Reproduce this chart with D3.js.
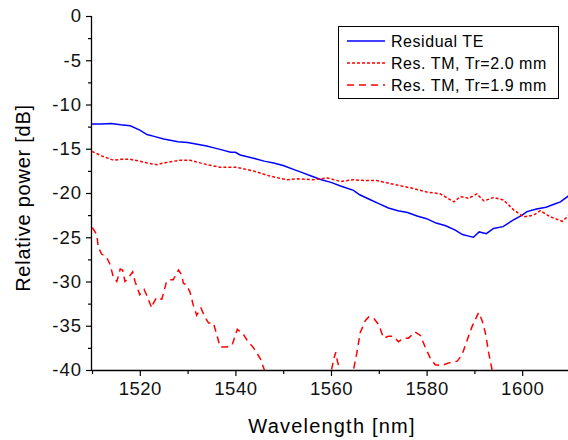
<!DOCTYPE html>
<html>
<head>
<meta charset="utf-8">
<script src="https://cdn.jsdelivr.net/npm/d3@7"></script>
<style>
  body { margin: 0; background: #fff; }
  svg { font-family: "Liberation Sans", Arial, sans-serif; }
</style>
</head>
<body>
<svg id="chart" width="568" height="440"></svg>
<script>
// Residual TE (blue solid)
const teWl = [1510, 1512, 1514, 1516, 1518, 1520, 1521.5, 1523, 1525, 1528, 1530, 1532, 1534, 1535.5, 1537, 1539, 1540, 1541, 1542.5, 1544, 1546, 1548, 1550, 1552, 1554, 1556, 1558, 1560, 1562, 1564.7, 1566, 1568, 1570, 1572, 1574, 1576, 1578, 1580, 1582, 1584, 1586, 1587.5, 1589, 1589.8, 1591, 1592.5, 1594, 1596, 1598, 1600, 1601, 1603, 1605, 1606.5, 1608, 1610];
const teDb = [-12.2, -12.2, -12.15, -12.3, -12.4, -12.9, -13.4, -13.6, -13.9, -14.2, -14.3, -14.5, -14.7, -14.9, -15.1, -15.4, -15.4, -15.7, -15.9, -16.1, -16.4, -16.6, -16.9, -17.3, -17.7, -18.1, -18.5, -18.8, -19.2, -19.7, -20.2, -20.7, -21.2, -21.7, -22.0, -22.2, -22.6, -22.9, -23.4, -23.7, -24.2, -24.7, -24.9, -25.0, -24.4, -24.6, -24.0, -23.8, -23.1, -22.5, -22.1, -21.8, -21.6, -21.3, -21.0, -20.2];

// Res. TM, Tr=2.0 mm (red dotted)
const tm20Wl = [1510, 1512, 1514.5, 1516, 1518, 1520, 1521.5, 1523.5, 1526, 1528.4, 1530.5, 1533.3, 1536.8, 1540.3, 1543.7, 1547.3, 1550.8, 1553, 1556.4, 1559.2, 1562, 1564.7, 1567, 1569.6, 1573.8, 1577.3, 1580.1, 1582.9, 1585.7, 1587.1, 1588.8, 1590.5, 1592, 1594, 1596.1, 1598.2, 1600.3, 1602.4, 1603.8, 1605.9, 1608.4, 1610];
const tm20Db = [-15.3, -15.8, -16.3, -16.2, -16.2, -16.4, -16.6, -16.8, -16.5, -16.3, -16.3, -16.7, -17.1, -17.1, -17.5, -18.1, -18.5, -18.4, -18.5, -18.3, -18.7, -18.5, -18.6, -18.6, -19.1, -19.5, -19.9, -20.1, -21.0, -20.4, -20.6, -20.1, -20.9, -20.5, -20.8, -21.9, -22.7, -22.5, -22.0, -22.7, -23.2, -22.4];

// Res. TM, Tr=1.9 mm (red dashed)
const tm19Wl = [1510, 1510.3, 1511, 1511.3, 1512, 1513, 1513.8, 1514.5, 1515.2, 1515.9, 1516.4, 1516.9, 1517.6, 1518.5, 1519, 1520, 1520.9, 1521.4, 1522.5, 1522.8, 1523.5, 1524.6, 1525.6, 1526.3, 1527, 1528.1, 1528.8, 1529.1, 1529.8, 1530.5, 1531.2, 1531.9, 1532.8, 1533.6, 1534.4, 1535.4, 1536.1, 1536.8, 1538.2, 1539.3, 1540.4, 1541.7, 1542.4, 1543.8, 1545.2, 1546.2, 1550, 1555, 1559.3, 1560.1, 1560.6, 1561, 1561.3, 1561.8, 1563, 1564.7, 1565.4, 1566.1, 1567.2, 1567.9, 1569, 1570, 1571, 1572, 1573.1, 1574.1, 1575.2, 1576.2, 1577.6, 1578.7, 1579.7, 1580.8, 1581.8, 1583.2, 1584.6, 1586.4, 1587.4, 1588.5, 1589.5, 1590.9, 1591.6, 1592.3, 1593, 1593.7, 1596, 1610];
const tm19Db = [-23.9, -24.1, -24.7, -26.1, -26.9, -27.2, -28.1, -29.6, -30.0, -28.6, -28.7, -30.0, -29.6, -28.9, -30.0, -31.5, -30.9, -31.5, -33.0, -32.5, -31.8, -32.0, -30.0, -29.8, -29.8, -28.7, -29.3, -30.2, -30.4, -31.2, -32.7, -33.8, -33.0, -34.0, -34.7, -34.7, -36.0, -37.4, -37.4, -37.2, -35.4, -36.0, -36.6, -37.5, -38.7, -40.2, -43, -44, -41.5, -40.0, -38.7, -38.0, -38.9, -40.0, -41, -40.0, -38.1, -35.8, -34.4, -34.0, -34.2, -34.9, -36.4, -36.2, -36.2, -36.8, -36.4, -36.4, -35.7, -36.1, -37.4, -38.7, -39.4, -39.5, -39.2, -39.0, -38.3, -36.6, -35.1, -33.5, -34.4, -35.8, -38.1, -40.0, -43, -46];

const xTicks = [1520, 1540, 1560, 1580, 1600];
const yTicks = [0, -5, -10, -15, -20, -25, -30, -35, -40];
const legendLabels = ["Residual TE", "Res. TM, Tr=2.0 mm", "Res. TM, Tr=1.9 mm"];

const svg = d3.select("#chart");
const mLeft = 92, mRight = 570, mTop = 16, mBottom = 370;

const x = d3.scaleLinear().domain([1510, 1610]).range([mLeft, mRight]);
const y = d3.scaleLinear().domain([-40, 0]).range([mBottom, mTop]);

svg.append("clipPath").attr("id", "plot")
  .append("rect")
  .attr("x", mLeft).attr("y", mTop)
  .attr("width", mRight - mLeft).attr("height", mBottom - mTop);

// axes
const xAxis = d3.axisBottom(x).tickValues(xTicks).tickFormat(d3.format("d")).tickSize(6).tickPadding(6);
const yAxis = d3.axisLeft(y).tickValues(yTicks).tickSize(6).tickPadding(4)
  .tickFormat(d => d === 0 ? "0" : "-" + Math.abs(d));

const gx = svg.append("g").attr("transform", `translate(0,${mBottom})`).call(xAxis);
const gy = svg.append("g").attr("transform", `translate(${mLeft},0)`).call(yAxis);

// minor ticks
svg.append("g").attr("transform", `translate(0,${mBottom})`)
  .call(d3.axisBottom(x).tickValues([1510, 1530, 1550, 1570, 1590, 1610]).tickSize(4).tickFormat(""))
  .select(".domain").remove();
svg.append("g").attr("transform", `translate(${mLeft},0)`)
  .call(d3.axisLeft(y).tickValues(d3.range(-37.5, 0, 5)).tickSize(4).tickFormat(""))
  .select(".domain").remove();

svg.selectAll(".domain").attr("stroke", "#000").attr("stroke-width", 1.3);
svg.selectAll(".tick line").attr("stroke", "#000").attr("stroke-width", 1.2);
gx.selectAll(".domain").attr("d", `M${mLeft},0.5H${mRight}`);
gy.selectAll(".domain").attr("d", `M-0.5,${mTop}V${mBottom}`);
gx.selectAll("text").attr("font-size", 18.5).attr("letter-spacing", 0.5)
  .attr("fill", "#111").attr("font-family", "Liberation Sans, Arial");
gy.selectAll("text").attr("font-size", 18.5).attr("letter-spacing", 1)
  .attr("fill", "#111").attr("font-family", "Liberation Sans, Arial");

// axis titles
svg.append("text")
  .attr("x", (mLeft + 568) / 2 + 2).attr("y", 433)
  .attr("text-anchor", "middle").attr("font-size", 20)
  .attr("letter-spacing", 1.2)
  .text("Wavelength [nm]");
svg.append("text")
  .attr("transform", `translate(30,${(mTop + mBottom) / 2 + 5}) rotate(-90)`)
  .attr("text-anchor", "middle").attr("font-size", 20)
  .attr("letter-spacing", 0.75)
  .text("Relative power [dB]");

// lines
const series = [
  { wl: teWl, db: teDb, color: "#0000ff", dash: null },
  { wl: tm20Wl, db: tm20Db, color: "#ff0000", dash: "3,2" },
  { wl: tm19Wl, db: tm19Db, color: "#ff0000", dash: "7,5" }
];

const line = d3.line().x(d => x(d[0])).y(d => y(d[1]));

const plot = svg.append("g").attr("clip-path", "url(#plot)");
series.forEach(s => {
  plot.append("path")
    .datum(s.wl.map((w, i) => [w, s.db[i]]))
    .attr("d", line)
    .attr("fill", "none")
    .attr("stroke", s.color)
    .attr("stroke-width", 1.5)
    .attr("stroke-dasharray", s.dash);
});

// legend
const lg = svg.append("g");
lg.append("rect")
  .attr("x", 338.5).attr("y", 26.5).attr("width", 220).attr("height", 72)
  .attr("fill", "#fff").attr("stroke", "#000").attr("stroke-width", 1);
legendLabels.forEach((label, i) => {
  const cy = 41 + i * 22;
  lg.append("line")
    .attr("x1", 347).attr("x2", 385).attr("y1", cy).attr("y2", cy)
    .attr("stroke", series[i].color).attr("stroke-width", 1.5)
    .attr("stroke-dasharray", series[i].dash);
  lg.append("text")
    .attr("x", 391).attr("y", cy + 5.5)
    .attr("font-size", 16)
    .attr("letter-spacing", 0.55)
    .text(label);
});
</script>
</body>
</html>
